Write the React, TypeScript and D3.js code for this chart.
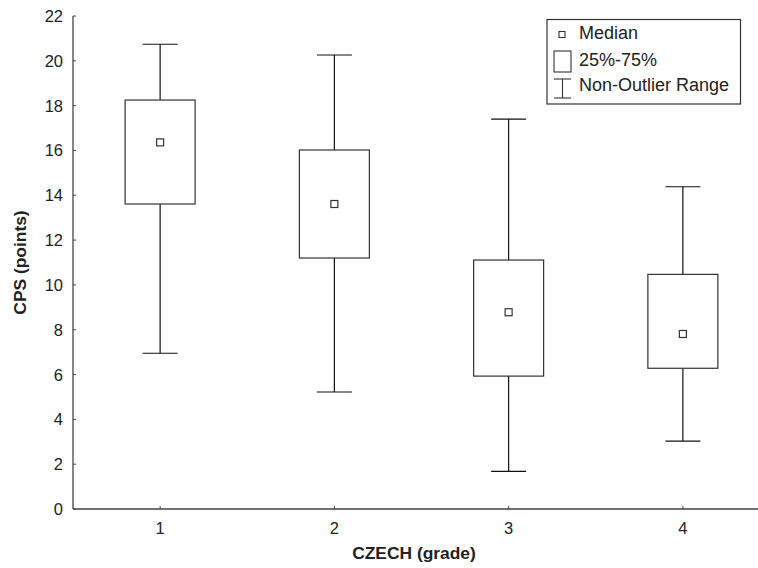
import React from 'react'
import * as d3 from 'd3'

// box plot values
const grades = ['1', '2', '3', '4']
const whiskerLow = [6.95, 5.22, 1.68, 3.03]
const q1 = [13.61, 11.2, 5.93, 6.28]
const median = [16.36, 13.61, 8.78, 7.81]
const q3 = [18.25, 16.02, 11.11, 10.47]
const whiskerHigh = [20.74, 20.26, 17.4, 14.38]
const yTicks = [0, 2, 4, 6, 8, 10, 12, 14, 16, 18, 20, 22]

const W = 758
const H = 568
const left = 73
const top = 16
const bottom = 509
const right = 770

const App = () => {
  const x = d3.scaleBand().domain(grades).range([left, right])
  const y = d3.scaleLinear().domain([0, 22]).range([bottom, top])
  const boxW = 70
  const capW = 35
  const font = '"Liberation Sans", Arial, sans-serif'

  const boxes = grades.map((g, i) => ({
    g,
    cx: (x(g) as number) + x.bandwidth() / 2,
    lo: whiskerLow[i],
    q1: q1[i],
    med: median[i],
    q3: q3[i],
    hi: whiskerHigh[i]
  }))

  return (
    <svg width={W} height={H} style={{ position: 'absolute', left: 0, top: 0, background: '#fff' }}
      fontFamily={font}>
      {/* axes */}
      <line x1={left} x2={left} y1={top} y2={bottom} stroke="#444" strokeWidth={1.3} />
      <line x1={left} x2={right} y1={bottom} y2={bottom} stroke="#444" strokeWidth={1.3} />
      {yTicks.map(t => (
        <g key={t}>
          <line x1={left} x2={left + 3} y1={y(t)} y2={y(t)} stroke="#444" />
          <text x={63} y={y(t) + 6} textAnchor="end" fontSize={16.5} fill="#222">{t}</text>
        </g>
      ))}
      {boxes.map(b => (
        <g key={b.g}>
          <line x1={b.cx} x2={b.cx} y1={bottom} y2={bottom - 3} stroke="#444" />
          <text x={b.cx} y={534} textAnchor="middle" fontSize={16.5} fill="#222">{b.g}</text>
        </g>
      ))}
      <text x={414} y={559} textAnchor="middle" fontSize={17.4} fontWeight="bold" fill="#222">CZECH (grade)</text>
      <text transform={`translate(26,${(top + bottom) / 2}) rotate(-90)`} textAnchor="middle"
        fontSize={17.4} fontWeight="bold" fill="#222">CPS (points)</text>

      {/* boxes */}
      {boxes.map(b => (
        <g key={'b' + b.g}>
          <line x1={b.cx} x2={b.cx} y1={y(b.hi)} y2={y(b.q3)} stroke="#111" strokeWidth={1.2} />
          <line x1={b.cx} x2={b.cx} y1={y(b.q1)} y2={y(b.lo)} stroke="#111" strokeWidth={1.2} />
          <line x1={b.cx - capW / 2} x2={b.cx + capW / 2} y1={y(b.hi)} y2={y(b.hi)} stroke="#111" strokeWidth={1.2} />
          <line x1={b.cx - capW / 2} x2={b.cx + capW / 2} y1={y(b.lo)} y2={y(b.lo)} stroke="#111" strokeWidth={1.2} />
          <rect x={b.cx - boxW / 2} y={y(b.q3)} width={boxW} height={y(b.q1) - y(b.q3)}
            fill="#fff" stroke="#333" strokeWidth={1.2} />
          <rect x={b.cx - 3.5} y={y(b.med) - 3.5} width={7} height={7} fill="#fff" stroke="#333" strokeWidth={1.2} />
        </g>
      ))}

      {/* legend */}
      <rect x={547} y={19.5} width={193.5} height={84.5} fill="#fff" stroke="#333" strokeWidth={1.2} />
      <rect x={559} y={31.5} width={6} height={6} fill="#fff" stroke="#333" strokeWidth={1.1} />
      <text x={579} y={39} fontSize={18} fill="#222">Median</text>
      <rect x={554} y={51} width={17} height={21} fill="#fff" stroke="#333" strokeWidth={1.1} />
      <text x={579} y={66} fontSize={18} fill="#222">25%-75%</text>
      <line x1={554} x2={571} y1={79} y2={79} stroke="#333" strokeWidth={1.1} />
      <line x1={562.5} x2={562.5} y1={79} y2={98} stroke="#333" strokeWidth={1.1} />
      <line x1={554} x2={571} y1={98} y2={98} stroke="#333" strokeWidth={1.1} />
      <text x={579} y={90.5} fontSize={18} fill="#222">Non-Outlier Range</text>
    </svg>
  )
}

export default App
